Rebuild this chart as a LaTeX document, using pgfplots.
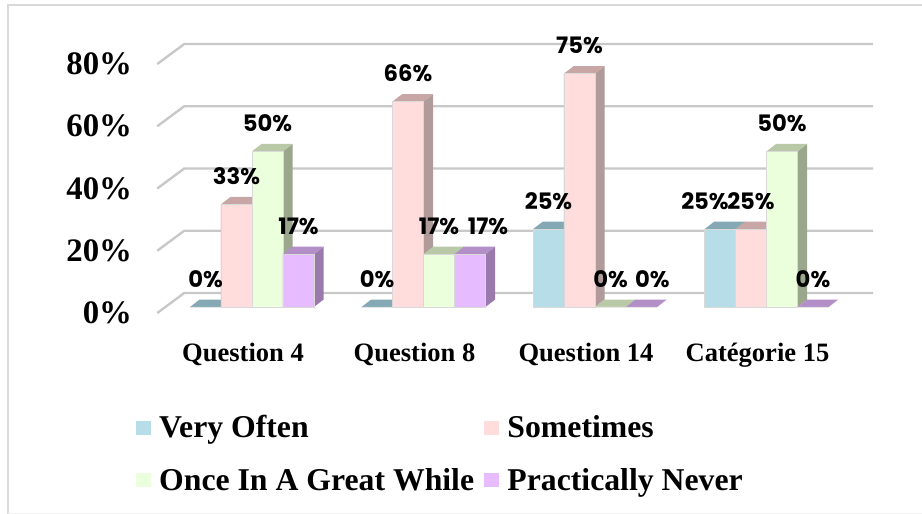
\documentclass[border=0pt]{standalone}
\usepackage{fontspec}
\setmainfont{Liberation Serif}
\newfontfamily\labfont{Poppins}
\usepackage{pgfplots}
\usepackage{pgfplotstable}
\pgfplotsset{compat=1.18}

% one reference pixel
\newlength{\px}
\setlength{\px}{0.75pt}

\definecolor{blueF}{HTML}{B7DEE8}
\definecolor{blueT}{HTML}{84A9B5}
\definecolor{blueS}{HTML}{7E9FAA}
\definecolor{pinkF}{HTML}{FFDDDD}
\definecolor{pinkT}{HTML}{C8A6A6}
\definecolor{pinkS}{HTML}{B09A9A}
\definecolor{greenF}{HTML}{EBFFDD}
\definecolor{greenT}{HTML}{B9C9A8}
\definecolor{greenS}{HTML}{9BA78D}
\definecolor{purpleF}{HTML}{E6BBFF}
\definecolor{purpleT}{HTML}{B28FC6}
\definecolor{purpleS}{HTML}{9A79AC}
\definecolor{gridc}{HTML}{C8C8C8}
\definecolor{framec}{HTML}{D9D9D9}

% nudge columns: labels moved sideways by hand in the original
\pgfplotstableread{
x often sometimes once never nudgeA nudgeB zero
0 0 33 50 17 0 0 0
1 0 66 17 17 0 0.105 0
2 25 75 0 0 0 0.064 0
3 25 25 50 0 -0.0875 0 0
}\answers

\def\barw{0.1808}
\def\depx{0.0560}  % depth of a bar, axis units
\def\depy{2.4}

% top and side of one bar
\newcommand{\barcap}[5]{%
  \pgfplotstablegetelem{#1}{#2}\of\answers
  \pgfmathsetmacro{\vv}{\pgfplotsretval}
  \pgfmathsetmacro{\xa}{#1+#3-\barw/2}
  \pgfmathsetmacro{\xb}{#1+#3+\barw/2}
  \pgfmathsetmacro{\xc}{\xa+\depx}
  \pgfmathsetmacro{\xd}{\xb+\depx}
  \pgfmathsetmacro{\yt}{\vv+\depy}
  \pgfmathsetmacro{\yb}{\depy}
  \addplot[forget plot, fill=#5, draw=none] coordinates {(\xb,0) (\xd,\yb) (\xd,\yt) (\xb,\vv)} \closedcycle;
  \addplot[forget plot, fill=#4, draw=none] coordinates {(\xa,\vv) (\xc,\yt) (\xd,\yt) (\xb,\vv)} \closedcycle;
}
\newcommand{\series}[3]{%
  \barcap{0}{#1}{#2}{#3T}{#3S}
  \barcap{1}{#1}{#2}{#3T}{#3S}
  \barcap{2}{#1}{#2}{#3T}{#3S}
  \barcap{3}{#1}{#2}{#3T}{#3S}
  \addplot[forget plot, ybar, bar width=\barw, bar shift=#2, fill=#3F, draw=gray!30, line width=0.7pt] table[x=x, y=#1] {\answers};
}
\newcommand{\barlabels}[3]{%
  \addplot[forget plot, draw=none, mark=none, nodes near coords={\pgfmathprintnumber{\pgfplotspointmeta}\%},
    every node near coord/.append style={anchor=center, yshift=28\px, inner sep=0pt, font=\labfont\bfseries\fontsize{17pt}{17pt}\selectfont}]
    table[x expr=\thisrow{x}+#2+\thisrow{#3}, y=#1] {\answers};
}
% floor line and back wall line of one gridline
\newcommand{\gridl}[1]{%
  \pgfmathsetmacro{\ya}{#1-1.93}
  \pgfmathsetmacro{\yb}{#1+4.5}
  \addplot[forget plot, gridc, line width=1.8pt] coordinates {(-0.5525,\ya) (-0.395,\yb) (3.621,\yb)};
}

\begin{document}
\begin{tikzpicture}
\pgfplotsset{sq/.style={legend image code/.code={\fill[##1] (0,-13\px) rectangle (24\px,7\px);}}}
\draw[framec, line width=1.5pt] (8\px,0\px) -- (8\px,509\px) -- (922\px,509\px);
\draw[black!6, line width=0.75pt] (8\px,0.5\px) -- (922\px,0.5\px);
\begin{axis}[
    at={(166.25\px,207\px)}, anchor=south west,
    scale only axis, width=686\px, height=249\px,
    xmin=-0.5, xmax=3.5, ymin=0, ymax=80,
    clip=false,
    /pgf/number format/assume math mode=true,
    axis line style={draw=none},
    major tick length=0pt,
    xtick={0,1,2,3},
    xticklabels={Question 4,Question 8,Question 14,Catégorie 15},
    x tick label style={font=\bfseries\fontsize{19.9pt}{20pt}\selectfont, xshift=-9\px, yshift=-36\px, inner sep=0pt, text height=14pt, text depth=4pt},
    xtick pos=bottom,
    ytick={0,20,40,60,80},
    yticklabel={\pgfmathprintnumber{\tick}\%},
    y tick label style={font=\bfseries\fontsize{24.6pt}{25pt}\selectfont, yshift=-6\px, xshift=-34\px, inner sep=0pt},
    ytick pos=left,
    legend columns=2,
    legend cell align=left,
    legend style={at={(-22\px,-99.5\px)}, anchor=north west, draw=none, fill=none, inner sep=0pt,
      font=\bfseries\fontsize{23.8pt}{25pt}\selectfont, row sep=23\px,
      /tikz/every even column/.append style={column sep=7\px},
      /tikz/every odd column/.append style={column sep=6\px}},
]
\addlegendimage{sq, fill=blueF, draw=none}
\addlegendimage{sq, fill=pinkF, draw=none}
\addlegendimage{sq, fill=greenF, draw=none}
\addlegendimage{sq, fill=purpleF, draw=none}
\gridl{0}\gridl{20}\gridl{40}\gridl{60}\gridl{80}
\series{often}{-0.2711}{blue}
\series{sometimes}{-0.0904}{pink}
\series{once}{0.0904}{green}
\series{never}{0.2711}{purple}
\barlabels{often}{-0.2711}{nudgeA}
\barlabels{sometimes}{-0.0904}{zero}
\barlabels{once}{0.0904}{zero}
\barlabels{never}{0.2711}{nudgeB}
\legend{Very Often,Sometimes,Once In A Great While,Practically Never}
\end{axis}
\pgfresetboundingbox
\useasboundingbox (0,0) rectangle (922\px,514\px);
\end{tikzpicture}
\end{document}
